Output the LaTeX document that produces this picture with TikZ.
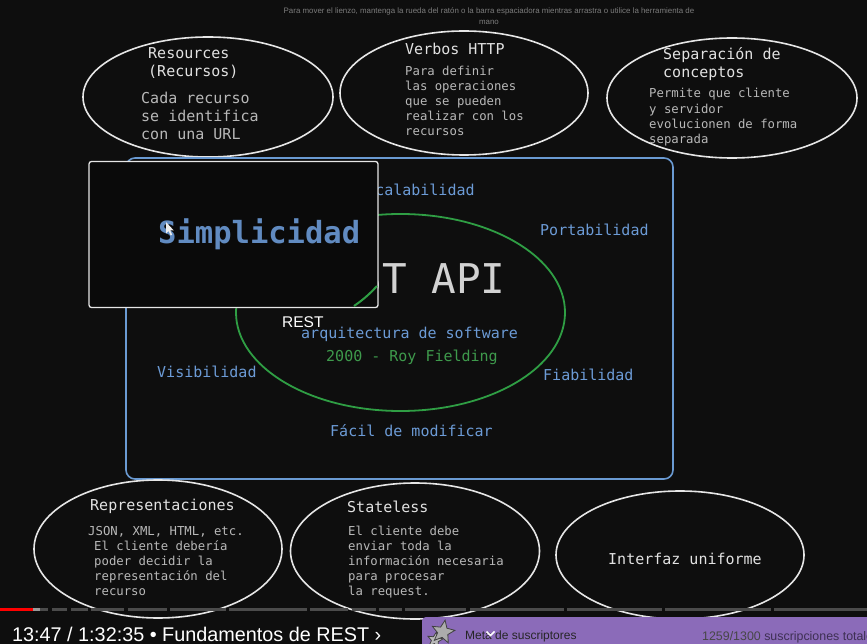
\documentclass[tikz,border=0pt]{standalone}
\usepackage{fontspec}
\setmainfont{DejaVu Sans}
\newfontfamily\codefont{DejaVu Sans Mono}
\newfontfamily\uifont{Liberation Sans}
\usetikzlibrary{shapes.geometric}
\definecolor{bgc}{HTML}{0E0E0E}
\definecolor{strokec}{HTML}{E6E6E6}
\definecolor{headc}{HTML}{E2E2E2}
\definecolor{bodyc}{HTML}{B8B8B8}
\definecolor{blueT}{HTML}{6C9BD6}
\definecolor{blueR}{HTML}{6A9AD2}
\definecolor{greenL}{HTML}{2F9E44}
\definecolor{greenT}{HTML}{3E9A4C}
\definecolor{apiT}{HTML}{D2D2D2}
\definecolor{hintc}{HTML}{7C7C7C}
\definecolor{purplec}{HTML}{8B6BB9}
\definecolor{segc}{HTML}{4B4B4B}
\definecolor{ytred}{HTML}{FF0000}
\begin{document}
\begin{tikzpicture}[x=1pt,y=-1pt,
  bubble/.style={draw=strokec, line width=1.6pt, ellipse, inner sep=0pt},
  txt/.style={inner sep=0pt, anchor=base west},
  headt/.style={txt, text=headc, font=\codefont\fontsize{15}{18}\selectfont},
  bigt/.style={txt, text=bodyc, font=\codefont\fontsize{15}{18}\selectfont},
  smallt/.style={txt, text=bodyc, font=\codefont\fontsize{12.3}{15}\selectfont},
  propt/.style={txt, text=blueT, font=\codefont\fontsize{15}{18}\selectfont},
  seg/.style={fill=segc},
  uit/.style={inner sep=0pt, font=\uifont\fontsize{12}{14}\selectfont},
]
\clip (0,0) rectangle (867,644);
\fill[bgc] (0,0) rectangle (867,644);

% hint
\node[inner sep=0pt, anchor=base, text=hintc, font=\uifont\fontsize{7.9}{9}\selectfont] (hint1) at (489,13.5) {Para mover el lienzo, mantenga la rueda del ratón o la barra espaciadora mientras arrastra o utilice la herramienta de};
\node[inner sep=0pt, anchor=base, text=hintc, font=\uifont\fontsize{7.9}{9}\selectfont] (hint2) at (489,25) {mano};

% top bubbles
\node[bubble, minimum width=250, minimum height=120] (res) at (208,97) {};
\node[bubble, minimum width=248, minimum height=124] (verb) at (464,93) {};
\node[bubble, minimum width=250, minimum height=120] (sep) at (732,98) {};

\node[headt] (resh1) at (148,59) {Resources};
\node[headt] (resh2) at (148,77) {(Recursos)};
\foreach \t [count=\i] in {Cada recurso, se identifica, con una URL}
  \node[bigt] (resb\i) at (141,{104+18*(\i-1)}) {\t};

\node[headt] (verbh) at (405,55) {Verbos HTTP};
\foreach \t [count=\i] in {Para definir, las operaciones, que se pueden, realizar con los, recursos}
  \node[smallt] (verbb\i) at (405,{76+15*(\i-1)}) {\t};

\node[headt] (seph1) at (663,60) {Separación de};
\node[headt] (seph2) at (663,78) {conceptos};
\foreach \t [count=\i] in {Permite que cliente, y servidor, evolucionen de forma, separada}
  \node[smallt] (sepb\i) at (649,{98+15.2*(\i-1)}) {\t};

% frame and core
\node[draw=blueR, line width=1.6pt, rounded corners=9pt, minimum width=547, minimum height=321, inner sep=0pt] (frame) at (399.5,318.5) {};
\node[draw=greenL, line width=1.8pt, ellipse, minimum width=329, minimum height=197, inner sep=0pt] (core) at (400.5,312.5) {};

\node[txt, text=apiT, font=\codefont\fontsize{41}{48}\selectfont] (api) at (308,294) {REST API};
\node[txt, text=white, font=\uifont\fontsize{15.5}{18}\selectfont] (restl) at (282,327) {REST};
\node[propt] (arq) at (301,338) {arquitectura de software};
\node[txt, text=greenT, font=\codefont\fontsize{15}{18}\selectfont] (roy) at (326,361) {2000 - Roy Fielding};

\node[propt] (esc) at (357,196) {Escalabilidad};
\node[propt] (port) at (540,236) {Portabilidad};
\node[propt] (vis) at (157,377) {Visibilidad};
\node[propt] (fia) at (543,380) {Fiabilidad};
\node[propt] (fac) at (330,436) {Fácil de modificar};

% bottom bubbles
\node[bubble, minimum width=248, minimum height=138] (repr) at (158,549) {};
\node[bubble, minimum width=249, minimum height=136] (stl) at (415,551) {};
\node[bubble, minimum width=248, minimum height=128] (unif) at (680,555) {};

\node[headt] (reprh) at (90,510) {Representaciones};
\node[smallt] (repr0) at (88,535) {JSON, XML, HTML, etc.};
\foreach \t [count=\i] in {El cliente debería, poder decidir la, representación del, recurso}
  \node[smallt] (reprb\i) at (94,{550+15.3*(\i-1)}) {\t};

\node[headt] (stlh) at (347,512) {Stateless};
\foreach \t [count=\i] in {El cliente debe, enviar toda la, información necesaria, para procesar, la request.}
  \node[smallt] (stlb\i) at (348,{535+15.2*(\i-1)}) {\t};

\node[bigt, text=headc] (unift) at (608,564) {Interfaz uniforme};

% preview popup
\node[fill=black!96, draw=strokec, line width=1.3pt, rounded corners=2.5pt, minimum width=289, minimum height=146, inner sep=0pt] (popup) at (233.5,234.5) {};
\node[txt, text=blueT!90!black, font=\codefont\bfseries\fontsize{30.5}{36}\selectfont] (simp) at (158,244) {Simplicidad};
\draw[greenL, line width=2pt] (354,306) to[bend right=6] (377,286);
\fill[white!85!gray] (166,222) -- (166,233.5) -- (168.6,231) -- (170.6,235.5) -- (172.2,234.8) -- (170.3,230.5) -- (173.8,230.5) -- cycle;

% progress bar
\fill[ytred] (0,607.5) rectangle (33,611);
\fill[gray!80] (33,607.5) rectangle (40,611);
\foreach \a/\b in {40/48,52/67,71/88,91/124,128/167,170/226,229/307,310/348,352/376,379/402,405/466,470/564,567/662,665/771,774/867}
  \fill[seg] (\a,607.5) rectangle (\b,611);

\node[txt, text=white, font=\uifont\fontsize{19.8}{22}\selectfont] (timel) at (12,641.5) {13:47 / 1:32:35 • Fundamentos de REST ›};

% subscriber goal bar
\fill[purplec, rounded corners=4pt] (422,650) -- (422,617) -- (875,617) -- (875,650) -- cycle;
\node[star, star points=5, star point ratio=2.2, fill=gray!55, draw=black!75, line width=0.8pt, minimum size=16, inner sep=0pt, rotate=-10] (star2) at (435,640) {};
\node[star, star points=5, star point ratio=2.2, fill=gray!65, draw=black!75, line width=0.8pt, minimum size=24, inner sep=0pt, rotate=-10] (star1) at (443,632) {};
\node[uit, anchor=base west, text=black!85] (goal) at (465,639.5) {Meta de suscriptores};
\draw[white, line width=1.6pt] (486.5,631.5) -- (490.5,635.5) -- (494.5,631.5);
\node[uit, anchor=base west, font=\uifont\fontsize{12.4}{15}\selectfont] (count) at (702,640) {\textcolor{black!72}{1259/1300} \textcolor{black!55!purplec}{suscripciones totales}};
\end{tikzpicture}
\end{document}
